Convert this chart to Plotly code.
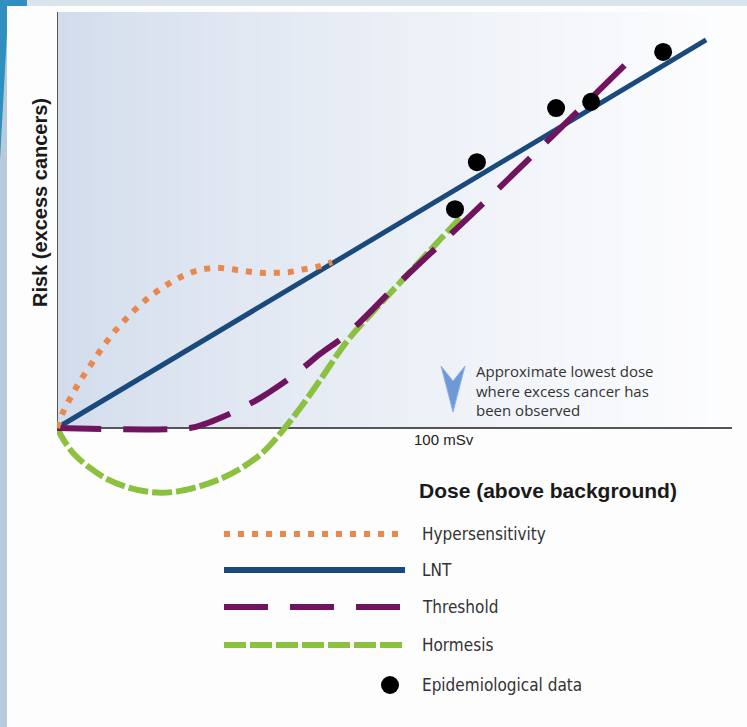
import plotly.graph_objects as go

# ---------------- data (dose in mSv-like units, risk in arbitrary units) ----------------
lnt_x = [0, 163.1]
lnt_y = [0, 93.3]

hyper_x = [0, 1.5, 3.8, 5.8, 8.3, 10.8, 13.8, 17.1, 20.9, 24.6, 28.4, 32.2, 35.9, 39.7,
           43.5, 47.2, 51.0, 54.8, 58.5, 62.3, 66.1, 69.1]
hyper_y = [0, 3.8, 8.0, 11.3, 14.9, 18.5, 22.4, 26.0, 29.6, 32.5, 34.9, 36.8, 38.0, 38.5,
           38.2, 37.7, 37.3, 37.3, 37.5, 38.2, 38.9, 39.9]

thresh_x = [0, 33.4, 37.2, 41.0, 46.0, 51.0, 56.0, 61.1, 66.1, 72.9, 86.2, 103.8, 121.4, 145.5]
thresh_y = [0, 0, 1.0, 2.4, 4.6, 7.2, 10.3, 13.9, 17.8, 22.6, 35.1, 51.0, 67.3, 89.9]

horm_x = [0, 2.0, 4.5, 8.3, 12.6, 17.6, 23.4, 29.1, 35.2, 40.9, 46.7, 51.8, 56.8, 61.1,
          66.1, 72.9, 81.2, 91.2, 101.3]
horm_y = [0, -3.4, -6.5, -9.6, -12.3, -14.2, -15.4, -15.4, -14.2, -12.3, -9.4, -5.8, -0.5,
          4.8, 11.5, 20.9, 29.8, 40.1, 50.5]

epi_x = [100.0, 105.5, 125.4, 134.2, 152.3]
epi_y = [52.6, 63.9, 76.9, 78.4, 90.4]

legend_labels = ["Hypersensitivity", "LNT", "Threshold", "Hormesis", "Epidemiological data"]
x_tick_label = "100 mSv"
x_tick_value = 100

# ---------------- layout geometry ----------------
W, H = 747, 727
L, R, T, B = 57, 15, 12, 227
PW, PH = W - L - R, H - T - B
XS, YS = 3.98, 4.16  # px per unit
X0PX, Y0PX = 57, 428


def px2x(px):
    return (px - X0PX) / XS


def py2y(py):
    return (Y0PX - py) / YS


def pxp(px):
    return (px - L) / PW


def pyp(py):
    return (H - B - py) / PH


ORANGE = "#e8884c"
NAVY = "#1a4a7c"
PURPLE = "#70145f"
GREEN = "#8cc03f"

fig = go.Figure()

fig.add_trace(go.Scatter(x=lnt_x, y=lnt_y, mode="lines",
                         line=dict(color=NAVY, width=5), name="LNT"))
fig.add_trace(go.Scatter(x=horm_x, y=horm_y, mode="lines", line_shape="spline",
                         line=dict(color=GREEN, width=6, dash="20px,4px"), name="Hormesis"))
fig.add_trace(go.Scatter(x=thresh_x, y=thresh_y, mode="lines", line_shape="spline",
                         line=dict(color=PURPLE, width=6, dash="44px,22px"), name="Threshold"))
fig.add_trace(go.Scatter(x=hyper_x, y=hyper_y, mode="lines", line_shape="spline",
                         line=dict(color=ORANGE, width=6, dash="6px,8px"), name="Hypersensitivity"))
fig.add_trace(go.Scatter(x=epi_x, y=epi_y, mode="markers",
                         marker=dict(color="black", size=18), name="Epidemiological data"))

shapes = []

# slide decoration: top band and left stripe
shapes.append(dict(type="rect", xref="paper", yref="paper", x0=pxp(0), x1=pxp(W),
                   y0=pyp(0), y1=pyp(6), fillcolor="#dbe3eb", line_width=0, layer="below"))
shapes.append(dict(type="rect", xref="paper", yref="paper", x0=pxp(0), x1=pxp(7),
                   y0=pyp(0), y1=pyp(H), fillcolor="#b8cbdc", line_width=0, layer="below"))
shapes.append(dict(type="path", xref="paper", yref="paper",
                   path="M {} {} L {} {} L {} {} L {} {} L {} {} L {} {} Z".format(
                       pxp(0), pyp(0), pxp(27), pyp(0), pxp(27), pyp(6), pxp(7), pyp(6),
                       pxp(7), pyp(33), pxp(0), pyp(160)),
                   fillcolor="#2f8fbf", line_width=0, layer="below"))

# gradient plot background (left bluish -> right white)
N = 60
c0 = (210, 220, 236)
c1 = (253, 253, 254)
for i in range(N):
    t = i / (N - 1)
    t2 = t ** 0.8
    c = tuple(int(round(c0[k] + (c1[k] - c0[k]) * t2)) for k in range(3))
    xa = X0PX + (732 - X0PX) * i / N
    xb = X0PX + (732 - X0PX) * (i + 1) / N + 0.5
    shapes.append(dict(type="rect", xref="x", yref="y", x0=px2x(xa), x1=px2x(xb),
                       y0=0, y1=py2y(12), fillcolor="rgb(%d,%d,%d)" % c,
                       line_width=0, layer="below"))

# axes lines
shapes.append(dict(type="line", xref="x", yref="y", x0=0, x1=0, y0=0, y1=py2y(12),
                   line=dict(color="#555555", width=2), layer="below"))
shapes.append(dict(type="line", xref="x", yref="y", x0=0, x1=px2x(732), y0=0, y1=0,
                   line=dict(color="#555555", width=2), layer="below"))

# blue chevron arrow
shapes.append(dict(type="path", xref="x", yref="y",
                   path="M {} {} L {} {} L {} {} L {} {} Z".format(
                       px2x(441), py2y(366), px2x(453), py2y(381), px2x(465), py2y(366),
                       px2x(453), py2y(412)),
                   fillcolor="#6d9ad6", line=dict(color="#8fb3e3", width=1)))

# legend swatches
leg_y = [534, 570, 607, 645, 685]
styles = [(ORANGE, "6px,8px", 6), (NAVY, "solid", 6), (PURPLE, "44px,22px", 6),
          (GREEN, "22px,4px", 6)]
for (col, dash, w), yy in zip(styles, leg_y[:4]):
    shapes.append(dict(type="line", xref="paper", yref="paper", x0=pxp(224), x1=pxp(405),
                       y0=pyp(yy), y1=pyp(yy), line=dict(color=col, width=w, dash=dash)))
shapes.append(dict(type="circle", xref="paper", yref="paper", x0=pxp(381), x1=pxp(399),
                   y0=pyp(694), y1=pyp(676), fillcolor="black", line_width=0))

annotations = []
annotations.append(dict(text="<b>Risk (excess cancers)</b>", xref="paper", yref="paper",
                        x=pxp(40), y=pyp(203), textangle=-90, showarrow=False,
                        font=dict(family="Liberation Sans, Arial", size=20, color="#1a1a1a"),
                        xanchor="center", yanchor="middle"))
annotations.append(dict(text=x_tick_label, xref="x", yref="paper", x=x_tick_value - 2.8,
                        y=pyp(439), showarrow=False,
                        font=dict(family="Liberation Sans, Arial", size=15, color="#222222"),
                        xanchor="center", yanchor="middle"))
annotations.append(dict(text="<b>Dose (above background)</b>", xref="paper", yref="paper",
                        x=pxp(417), y=pyp(490), showarrow=False,
                        font=dict(family="Liberation Sans, Arial", size=21, color="#1a1a1a"),
                        xanchor="left", yanchor="middle"))
annotations.append(dict(text="Approximate lowest dose<br>where excess cancer has<br>been observed",
                        xref="paper", yref="paper", x=pxp(474), y=pyp(359), showarrow=False,
                        align="left", xanchor="left", yanchor="top",
                        font=dict(family="Open Sans, Noto Sans", size=15, color="#333333")))
for lab, yy in zip(legend_labels, leg_y):
    annotations.append(dict(text=lab, xref="paper", yref="paper", x=pxp(420), y=pyp(yy),
                            showarrow=False, xanchor="left", yanchor="middle",
                            font=dict(family="Liberation Sans Narrow, DejaVu Sans Condensed, Arial",
                                      size=17, color="#333333")))

fig.update_layout(
    width=W, height=H,
    margin=dict(l=L, r=R, t=T, b=B, pad=0),
    paper_bgcolor="#fdfdfe", plot_bgcolor="rgba(0,0,0,0)",
    showlegend=False,
    xaxis=dict(range=[0, px2x(732)], visible=False, fixedrange=True),
    yaxis=dict(range=[py2y(H - B), py2y(12)], visible=False, fixedrange=True),
    shapes=shapes, annotations=annotations,
)

fig.write_html("out.html", config={"displayModeBar": False},
               post_script="document.body.style.margin='0';document.body.style.overflow='hidden';")
